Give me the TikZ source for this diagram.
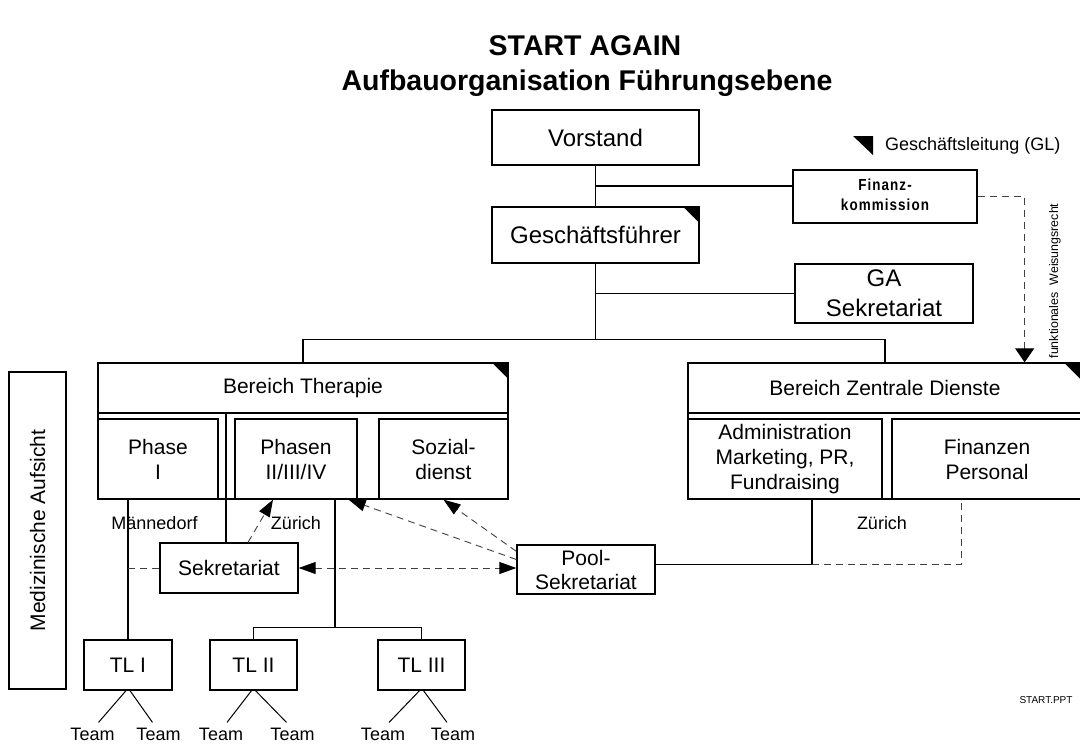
\documentclass[tikz,border=0pt]{standalone}
\usepackage{fontspec}
\setmainfont{Liberation Sans}
\newfontfamily\spacedfont[LetterSpace=8]{Liberation Sans}
\usetikzlibrary{arrows.meta}

\begin{document}
\begin{tikzpicture}[x=1pt,y=-1pt,
  box/.style={draw,line width=1.3pt,inner sep=0pt,align=center},
  bigtext/.style={font=\fontsize{24}{30}\selectfont},
  midtext/.style={font=\fontsize{21}{25}\selectfont},
  smalltext/.style={font=\fontsize{18}{22}\selectfont},
  link/.style={line width=1.3pt},
  twig/.style={line width=1pt},
  hint/.style={dash pattern=on 7pt off 5pt,line width=0.9pt,black!75},
  >={Triangle[length=17pt,width=12pt,color=black]}]
  \useasboundingbox (0,0) rectangle (1080,745);

  % title
  \node[font=\bfseries\fontsize{28.5}{34}\selectfont] (title) at (585,46) {START AGAIN};
  \node[font=\bfseries\fontsize{28.5}{34}\selectfont] (subtitle) at (587,83) {Aufbauorganisation Führungsebene};

  % top of the hierarchy
  \node[box,bigtext,minimum width=207pt,minimum height=55pt] (vorstand) at (595.5,137.5) {Vorstand};
  \node[box,bigtext,minimum width=207pt,minimum height=56pt] (gf) at (595.5,235) {Geschäftsführer};
  \node[box,minimum width=184pt,minimum height=53pt,font=\spacedfont\bfseries\fontsize{16}{20}\selectfont] (finanz) at (885,196.5)
    {\scalebox{0.84}[1]{\begin{tabular}{@{}c@{}}Finanz-\\kommission\end{tabular}}};
  \node[box,bigtext,minimum width=178pt,minimum height=59pt] (gasek) at (884,293.5) {GA\\Sekretariat};

  % legend
  \fill (853,136) -- (873,136) -- (873,155) -- cycle;
  \node[smalltext,anchor=west,inner sep=0pt] (legend) at (885,146) {Geschäftsleitung (GL)};

  % Bereich Therapie
  \node[box,minimum width=410pt,minimum height=136pt] (therapieFrame) at (303,431) {};
  \node[box,midtext,minimum width=410pt,minimum height=50pt] (therapie) at (303,388) {Bereich Therapie};
  \node[box,midtext,minimum width=120pt,minimum height=80pt] (phaseI) at (158,459) {Phase\\I};
  \node[box,midtext,minimum width=122pt,minimum height=80pt] (phasen) at (296,459) {Phasen\\II/III/IV};
  \node[box,midtext,minimum width=129pt,minimum height=80pt] (sozial) at (443.5,459) {Sozial-\\dienst};

  % Bereich Zentrale Dienste
  \node[box,minimum width=394pt,minimum height=136pt] (zentraleFrame) at (885,431) {};
  \node[box,midtext,minimum width=394pt,minimum height=50pt] (zentrale) at (885,388) {Bereich Zentrale Dienste};
  \node[box,midtext,minimum width=194pt,minimum height=80pt] (admin) at (785,459) {Administration\\Marketing, PR,\\Fundraising};
  \node[box,midtext,minimum width=190pt,minimum height=80pt] (finanzen) at (987,459) {Finanzen\\Personal};

  \foreach \n/\s in {gf/17,therapie/17,zentrale/19}
    \fill (\n.north east) -- ++(-\s,0) -- ++(\s,\s) -- cycle;

  % lower level
  \node[box,midtext,rotate=90,minimum width=317pt,minimum height=57pt] (med) at (37.5,530.5) {Medizinische Aufsicht};
  \node[box,midtext,minimum width=138pt,minimum height=50pt] (sek) at (229,568) {Sekretariat};
  \node[box,font=\fontsize{21}{24}\selectfont,minimum width=138pt,minimum height=49pt] (pool) at (586,569.5) {Pool-\\Sekretariat};
  \node[box,midtext,minimum width=88pt,minimum height=50pt] (tlI) at (128,665) {TL I};
  \node[box,midtext,minimum width=87pt,minimum height=50pt] (tlII) at (253.5,665) {TL II};
  \node[box,midtext,minimum width=87pt,minimum height=50pt] (tlIII) at (421.5,665) {TL III};

  \foreach \t/\xa/\xb in {tlI/92.5/158.5,tlII/221/292.5,tlIII/383/453} {
    \node[smalltext,anchor=base,inner sep=1pt] (\t-a) at (\xa,740) {Team};
    \node[smalltext,anchor=base,inner sep=1pt] (\t-b) at (\xb,740) {Team};
  }

  % labels
  \node[smalltext] (mannedorf) at (154.5,523) {Männedorf};
  \node[smalltext] (zurichA) at (296,523) {Zürich};
  \node[smalltext] (zurichB) at (882,523) {Zürich};
  \node[font=\fontsize{12.4}{15}\selectfont,rotate=90] (weisung) at (1055,281) {funktionales~~Weisungsrecht};
  \node[font=\fontsize{10}{12}\selectfont] (pptname) at (1046,700) {START.PPT};

  % connectors
  \draw[link] (vorstand) -- (gf);
  \coordinate (fkIn) at ([yshift=10.5pt]finanz.west);
  \draw[link] (fkIn) -- (fkIn -| vorstand.south);
  \coordinate (bus) at ([yshift=-76pt]gf.south);
  \draw[link] (gf) -- (bus);
  \draw[link] (gasek.west) -- (gasek.west -| gf.south);
  \draw[link] (therapie.north) |- (bus) -| (zentrale.north);
  \draw[hint,-{Triangle[length=14pt,width=19pt,color=black]}] (finanz.east) -| ([xshift=-58pt]zentrale.north east);

  \draw[link] (tlI) -- (tlI.north |- phaseI.south);
  \draw[hint] (sek.west) -- (sek.west -| tlI.north);
  \draw[link] ([xshift=-3pt]sek.north) -- ([xshift=-3pt]sek.north |- therapie.south);
  \draw[hint,->] ([xshift=19pt]sek.north) -- ([xshift=-23pt]phasen.south);
  \draw[hint,<->] (sek.east) -- (sek.east -| pool.west);
  \draw[hint,->] ([yshift=10pt]pool.west) -- ([xshift=-9pt]phasen.south east);
  \draw[hint,->] ([yshift=-7pt]pool.north west) -- (sozial.south);

  \coordinate (poolOut) at ([yshift=5pt]pool.east);
  \coordinate (admTap) at ([xshift=27pt]admin.south);
  \draw[link] (poolOut) -| (admTap);
  \draw[hint] (admTap |- poolOut) -| ([xshift=-26pt]finanzen.south);

  \draw[link] ([xshift=39pt]phasen.south) -- ++(0,128) coordinate (tlBus);
  \draw[link] (tlII.north) |- (tlBus) -| (tlIII.north);
  \foreach \t in {tlI,tlII,tlIII} {
    \draw[twig] ([xshift=-2pt]\t.south) -- ([xshift=6pt,yshift=4pt]\t-a.north);
    \draw[twig] ([xshift=2pt]\t.south) -- ([xshift=-6pt,yshift=4pt]\t-b.north);
  }
\end{tikzpicture}
\end{document}
